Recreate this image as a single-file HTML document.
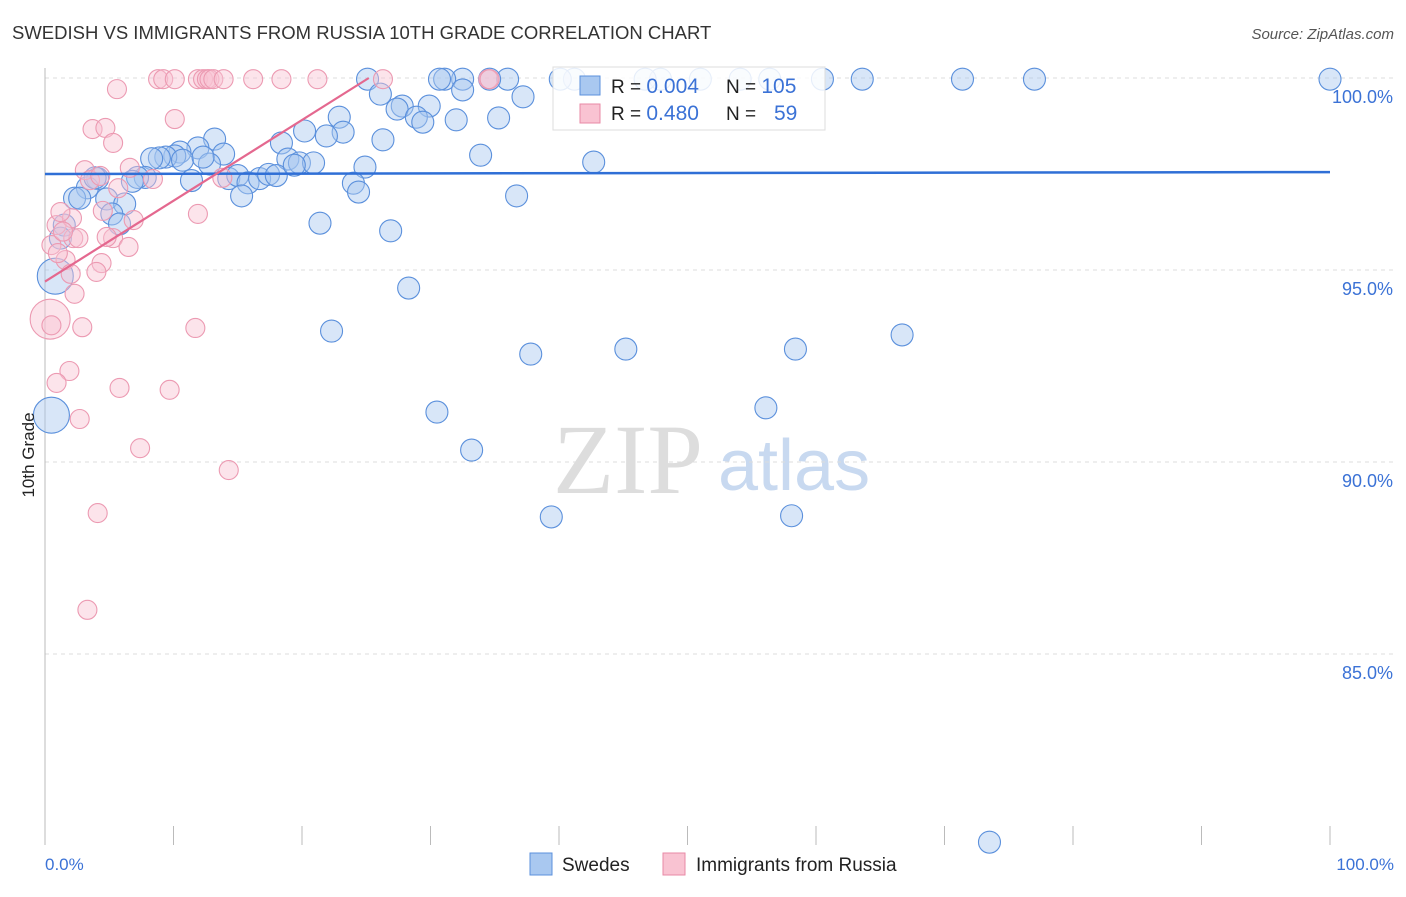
<!DOCTYPE html>
<html><head><meta charset="utf-8"><style>
body{margin:0;background:#fff;font-family:"Liberation Sans",sans-serif}
</style></head><body>
<svg width="1406" height="892" viewBox="0 0 1406 892">
<text x="12" y="39" font-size="18.5" fill="#333">SWEDISH VS IMMIGRANTS FROM RUSSIA 10TH GRADE CORRELATION CHART</text>
<text x="1394" y="39" font-size="15" fill="#555" font-style="italic" text-anchor="end">Source: ZipAtlas.com</text>
<g>
<text x="553" y="493" font-size="100" font-family="Liberation Serif" fill="#ddd">ZIP</text>
<text x="718" y="490" font-size="72" fill="#c8d9f0">atlas</text>
</g>
<g id="grid"></g>
<g id="axes"></g>
<g id="pts"></g>
<g id="lines"></g>
<text transform="translate(34,455) rotate(-90)" font-size="17" fill="#222" text-anchor="middle">10th Grade</text>
<text x="45" y="870" font-size="17" fill="#3b72d6">0.0%</text>
<text x="1394" y="870" font-size="17" fill="#3b72d6" text-anchor="end">100.0%</text>
<g>
<rect x="553" y="67" width="272" height="63" fill="#fff" fill-opacity="0.85" stroke="#ddd"/>
<rect x="580" y="76" width="20" height="19" fill="#a9c8f0" stroke="#5b90dc"/>
<rect x="580" y="104" width="20" height="19" fill="#f9c3d2" stroke="#e88aa6"/>
<text x="611" y="93" font-size="19" fill="#222">R = <tspan fill="#3b72d6" font-size="21">0.004</tspan><tspan x="726">N = </tspan><tspan fill="#3b72d6" font-size="21">105</tspan></text>
<text x="611" y="120" font-size="19" fill="#222">R = <tspan fill="#3b72d6" font-size="21">0.480</tspan><tspan x="726">N = </tspan><tspan fill="#3b72d6" x="774" font-size="21">59</tspan></text>
</g>
<g>
<rect x="530" y="853" width="22" height="22" fill="#a9c8f0" stroke="#5b90dc"/>
<text x="562" y="871" font-size="19" fill="#222">Swedes</text>
<rect x="663" y="853" width="22" height="22" fill="#f9c3d2" stroke="#e88aa6"/>
<text x="696" y="871" font-size="19" fill="#222">Immigrants from Russia</text>
</g>
</svg>
<script>
const yTicks=[100,95,90,85];
const xTicks=[0,10,20,30,40,50,60,70,80,90,100];
const blueX=[100,77,71.4,63.6,60.5,56.4,54.1,51,47.9,46.7,41.2,40.1,36,34.6,32.5,31.1,30.7,25.1,26.1,32.5,37.2,27.8,27.4,29.9,28.9,29.4,32,35.3,22.9,23.2,21.9,20.2,26.3,13.2,11.9,13.9,10.5,10.1,9.4,8.9,8.3,10.7,12.8,12.3,18.4,18.9,19.8,20.9,24.9,33.9,42.7,7.8,7.2,6.8,4.1,3.3,3.9,11.4,14.3,15,15.8,16.7,17.4,18,19.4,24,24.4,15.3,36.7,2.3,2.7,4.8,6.2,5.2,5.8,1.5,1.2,21.4,26.9,0.8,28.3,22.3,37.8,45.2,58.4,66.7,0.5,30.5,56.1,33.2,39.4,58.1,73.5];
const blueY=[99.97,99.97,99.97,99.97,99.97,99.97,99.97,99.97,99.97,99.97,99.97,99.97,99.97,99.97,99.97,99.97,99.97,99.97,99.58,99.69,99.51,99.27,99.19,99.27,98.98,98.85,98.91,98.96,98.98,98.59,98.49,98.62,98.39,98.41,98.18,98.02,98.07,97.97,97.94,97.92,97.9,97.86,97.76,97.94,98.31,97.89,97.79,97.79,97.68,97.99,97.81,97.41,97.41,97.31,97.38,97.14,97.4,97.33,97.38,97.46,97.27,97.38,97.49,97.46,97.73,97.26,97.03,96.93,96.93,96.87,96.87,96.85,96.72,96.46,96.2,96.17,95.83,96.22,96.02,94.84,94.53,93.41,92.81,92.94,92.94,93.31,91.22,91.3,91.41,90.31,88.57,88.6,80.1];
const blueR=[11,11,11,11,11,11,11,11,11,11,11,11,11,11,11,11,11,11,11,11,11,11,11,11,11,11,11,11,11,11,11,11,11,11,11,11,11,11,11,11,11,11,11,11,11,11,11,11,11,11,11,11,11,11,11,11,11,11,11,11,11,11,11,11,11,11,11,11,11,11,11,11,11,11,11,11,11,11,11,18,11,11,11,11,11,11,18,11,11,11,11,11,11];
const pinkX=[8.8,9.2,10.1,11.9,12.3,12.6,12.8,13.1,13.9,16.2,18.4,21.2,26.3,34.5,34.6,5.6,10.1,3.7,4.7,5.3,3.1,6.6,8.4,13.8,3.5,4.3,0.9,2.1,1.2,2.2,0.5,4.5,5.3,6.5,6.9,11.9,2.6,1.6,4.4,4,2,2.3,0.4,0.5,2.9,11.7,1.9,0.9,5.8,9.7,2.7,7.4,14.3,4.1,3.3,1.4,4.8,1,5.7];
const pinkY=[99.97,99.97,99.97,99.97,99.97,99.97,99.97,99.97,99.97,99.97,99.97,99.97,99.97,99.97,99.97,99.71,98.93,98.67,98.7,98.31,97.6,97.66,97.37,97.4,97.34,97.45,96.17,96.35,96.51,95.83,95.65,96.54,95.83,95.6,96.3,96.46,95.83,95.26,95.18,94.95,94.9,94.38,93.72,93.56,93.51,93.49,92.37,92.06,91.93,91.88,91.12,90.36,89.79,88.67,86.15,96.0,95.86,95.44,97.13];
const pinkR=[9.5,9.5,9.5,9.5,9.5,9.5,9.5,9.5,9.5,9.5,9.5,9.5,9.5,9.5,9.5,9.5,9.5,9.5,9.5,9.5,9.5,9.5,9.5,9.5,9.5,9.5,9.5,9.5,9.5,9.5,9.5,9.5,9.5,9.5,9.5,9.5,9.5,9.5,9.5,9.5,9.5,9.5,20,9.5,9.5,9.5,9.5,9.5,9.5,9.5,9.5,9.5,9.5,9.5,9.5,9.5,9.5,9.5,9.5];
const blueFit=[97.5,97.55];
const pinkFit=[94.7,100];
const pinkFitEnd=25.2;
const X0=45,X1=1330,Y100=78,PX5=192;
const sx=v=>X0+(X1-X0)*v/100;
const sy=v=>Y100+(100-v)/5*PX5;
const NS='http://www.w3.org/2000/svg';
function mk(t,a,p){const e=document.createElementNS(NS,t);for(const k in a)e.setAttribute(k,a[k]);p.appendChild(e);return e;}
const grid=document.getElementById('grid'),axes=document.getElementById('axes'),pts=document.getElementById('pts'),lines=document.getElementById('lines');
yTicks.forEach(v=>{
 const l=mk('line',{x1:45,x2:1394,y1:sy(v),y2:sy(v),stroke:'#ddd','stroke-dasharray':'4,4'},grid);
 
 
 const t=mk('text',{x:1393,y:sy(v)+25,'font-size':18,fill:'#3b72d6','text-anchor':'end'},grid);
 t.textContent=v.toFixed(1)+'%';
 
 
});
const ya=mk('line',{x1:45,x2:45,y1:68,y2:845,stroke:'#bbb'},axes);


xTicks.forEach(v=>{
 const l=mk('line',{x1:sx(v),x2:sx(v),y1:826,y2:845,stroke:'#bbb'},axes);
 
 
});
blueX.forEach((x,i)=>{
 const c=mk('circle',{cx:sx(x),cy:sy(blueY[i]),r:blueR[i]||11,fill:'#a9c8f0','fill-opacity':0.45,stroke:'#5b90dc','stroke-width':1.1},pts);
 
 
});
pinkX.forEach((x,i)=>{
 const c=mk('circle',{cx:sx(x),cy:sy(pinkY[i]),r:pinkR[i]||9.5,fill:'#f9c3d2','fill-opacity':0.45,stroke:'#ec9ab2','stroke-width':1.1},pts);
 
 
});
const bl=mk('line',{x1:sx(0),x2:sx(100),y1:sy(blueFit[0]),y2:sy(blueFit[1]),stroke:'#2f6fd6','stroke-width':2.5},lines);


const pl=mk('line',{x1:sx(0),x2:sx(pinkFitEnd),y1:sy(pinkFit[0]),y2:sy(pinkFit[1]),stroke:'#e4688f','stroke-width':2.2},lines);


</script>
</body></html>
